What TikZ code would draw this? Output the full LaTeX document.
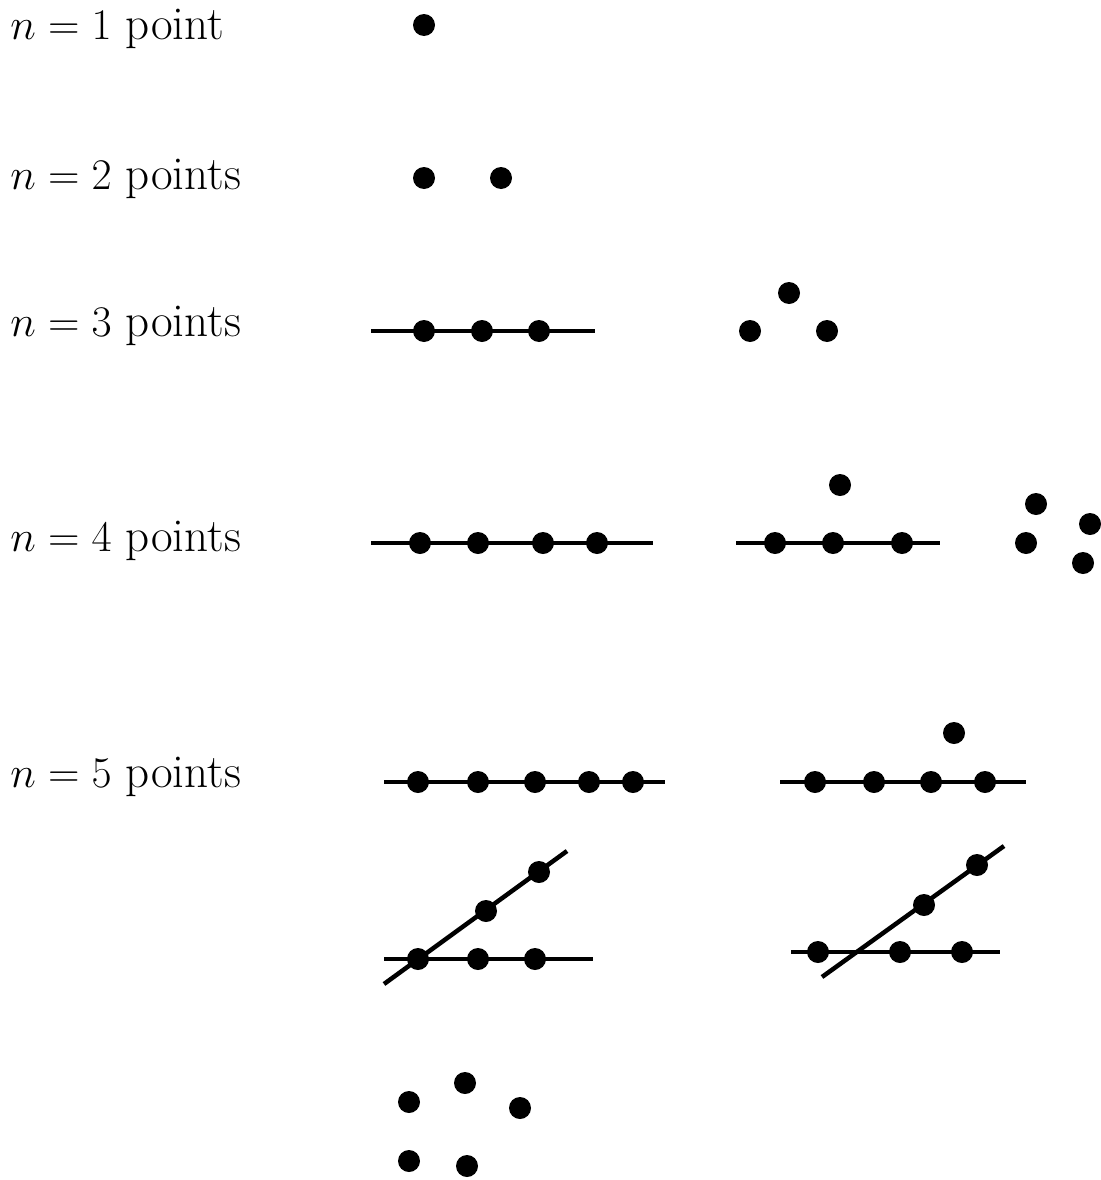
\documentclass[tikz,border=0pt]{standalone}
\begin{document}
\begin{tikzpicture}[x=0.02cm,y=-0.02cm,
  dot/.style={circle,fill=black,inner sep=0pt,minimum size=0.44cm},
  ln/.style={line width=0.09cm},
  lbl/.style={anchor=base west,inner sep=0pt,font=\fontsize{26.8}{32}\selectfont}]
\useasboundingbox (0,0) rectangle (1100,1180);

% row labels
\node[lbl] (l1) at (10,39) {$n=1$ point};
\node[lbl] (l2) at (10,189) {$n=2$ points};
\node[lbl] (l3) at (10,336) {$n=3$ points};
\node[lbl] (l4) at (10,551) {$n=4$ points};
\node[lbl] (l5) at (10,787) {$n=5$ points};

% n = 1
\node[dot] (a1) at (424,25) {};

% n = 2
\node[dot] (b1) at (424,178) {};
\node[dot] (b2) at (501,178) {};

% n = 3, collinear
\coordinate (c3L) at (371,331);
\coordinate (c3R) at (595,331);
\draw[ln] (c3L) -- (c3R);
\node[dot] (c1) at (424,331) {};
\node[dot] (c2) at (482,331) {};
\node[dot] (c3) at (539,331) {};
% n = 3, triangle
\node[dot] (t1) at (789,293) {};
\node[dot] (t2) at (750,331) {};
\node[dot] (t3) at (827,331) {};

% n = 4, collinear
\coordinate (d4L) at (371,543);
\coordinate (d4R) at (653,543);
\draw[ln] (d4L) -- (d4R);
\node[dot] (d1) at (420,543) {};
\node[dot] (d2) at (478,543) {};
\node[dot] (d3) at (543,543) {};
\node[dot] (d4) at (597,543) {};
% n = 4, three on a line
\coordinate (e4L) at (736,543);
\coordinate (e4R) at (940,543);
\draw[ln] (e4L) -- (e4R);
\node[dot] (e1) at (775,543) {};
\node[dot] (e2) at (833,543) {};
\node[dot] (e3) at (902,543) {};
\node[dot] (e4) at (840,485) {};
% n = 4, general position
\node[dot] (f1) at (1036,504) {};
\node[dot] (f2) at (1090,524) {};
\node[dot] (f3) at (1026,543) {};
\node[dot] (f4) at (1083,563) {};

% n = 5, collinear
\coordinate (g5L) at (384,782);
\coordinate (g5R) at (665,782);
\draw[ln] (g5L) -- (g5R);
\node[dot] (g1) at (418,782) {};
\node[dot] (g2) at (478,782) {};
\node[dot] (g3) at (535,782) {};
\node[dot] (g4) at (589,782) {};
\node[dot] (g5) at (633,782) {};
% n = 5, four on a line
\coordinate (h5L) at (780,782);
\coordinate (h5R) at (1026,782);
\draw[ln] (h5L) -- (h5R);
\node[dot] (h1) at (815,782) {};
\node[dot] (h2) at (874,782) {};
\node[dot] (h3) at (931,782) {};
\node[dot] (h4) at (985,782) {};
\node[dot] (h5) at (954,733) {};
% n = 5, two lines sharing a point
\coordinate (i5L) at (384,959);
\coordinate (i5R) at (593,959);
\coordinate (i5A) at (384,984);
\coordinate (i5B) at (567,851);
\draw[ln] (i5L) -- (i5R);
\draw[ln] (i5A) -- (i5B);
\node[dot] (i1) at (418,959) {};
\node[dot] (i2) at (478,959) {};
\node[dot] (i3) at (535,959) {};
\node[dot] (i4) at (486,911) {};
\node[dot] (i5) at (539,872) {};
% n = 5, two disjoint lines
\coordinate (j5L) at (791,952);
\coordinate (j5R) at (1000,952);
\coordinate (j5A) at (822,977);
\coordinate (j5B) at (1004,846);
\draw[ln] (j5L) -- (j5R);
\draw[ln] (j5A) -- (j5B);
\node[dot] (j1) at (818,952) {};
\node[dot] (j2) at (900,952) {};
\node[dot] (j3) at (962,952) {};
\node[dot] (j4) at (924,905) {};
\node[dot] (j5) at (977,865) {};
% n = 5, general position
\node[dot] (k1) at (465,1083) {};
\node[dot] (k2) at (409,1102) {};
\node[dot] (k3) at (520,1108) {};
\node[dot] (k4) at (409,1161) {};
\node[dot] (k5) at (467,1166) {};
\end{tikzpicture}
\end{document}
